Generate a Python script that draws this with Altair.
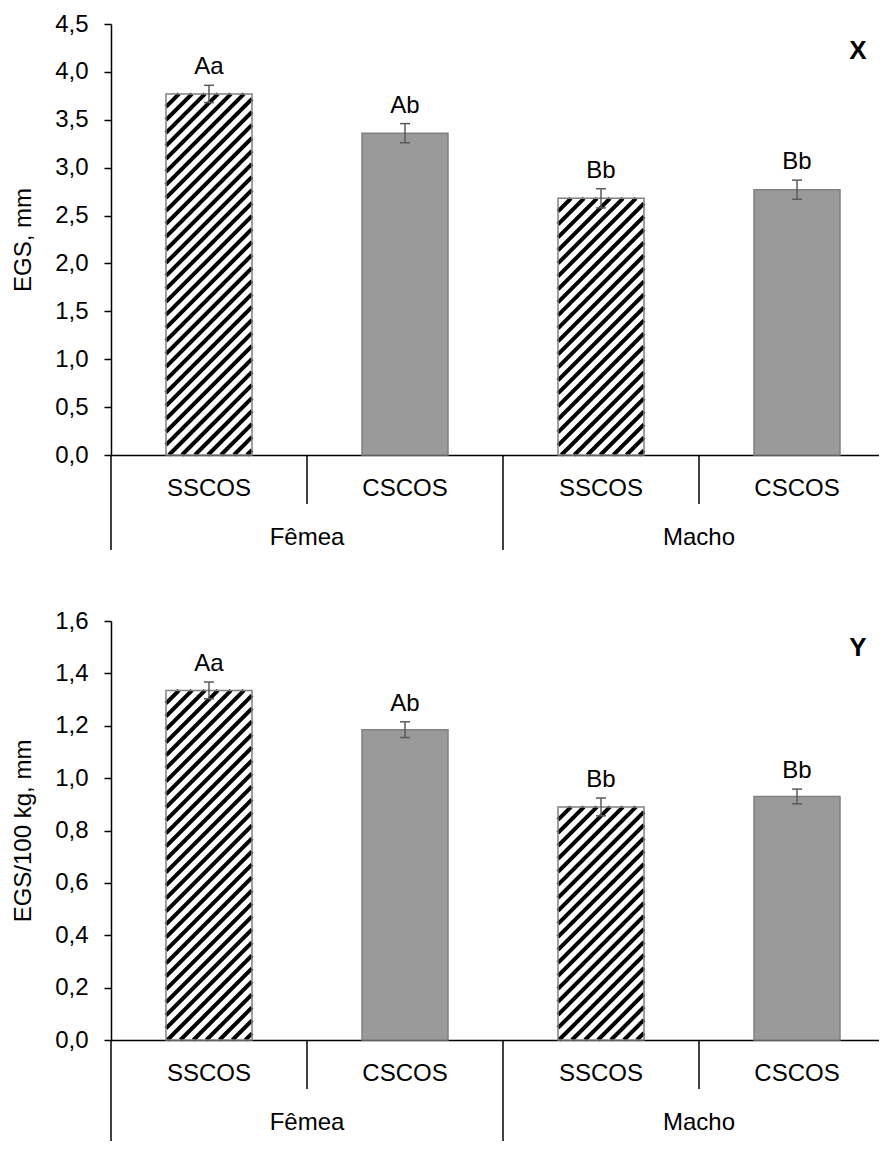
import altair as alt
import pandas as pd
import numpy as np

# ---------------- data ----------------
sexo = ["Fêmea", "Fêmea", "Macho", "Macho"]
trat = ["SSCOS", "CSCOS", "SSCOS", "CSCOS"]
grupos = ["Fêmea", "Macho"]

egs_mean = [3.77, 3.36, 2.68, 2.77]
egs_se = [0.09, 0.10, 0.10, 0.10]
egs_letras = ["Aa", "Ab", "Bb", "Bb"]
egs_ticks = [0.0, 0.5, 1.0, 1.5, 2.0, 2.5, 3.0, 3.5, 4.0, 4.5]

egs100_mean = [1.335, 1.185, 0.89, 0.93]
egs100_se = [0.032, 0.030, 0.034, 0.028]
egs100_letras = ["Aa", "Ab", "Bb", "Bb"]
egs100_ticks = [0.0, 0.2, 0.4, 0.6, 0.8, 1.0, 1.2, 1.4, 1.6]

# ---------------- style ----------------
FONT = "Liberation Sans"
FS = 24
W = 768
BAND_PX = 196.0
XMAX = W / BAND_PX
BAR_HALF = 43.0 / BAND_PX
CAP_HALF = 5.0 / BAND_PX
STRIPE_STEP = 13.0
GREY_FILL = "#9a9a9a"


def panel(means, ses, letters, ticks, height, title, tag):
    ymax = ticks[-1]
    sy = height / ymax
    n = len(means)
    centers = [i + 0.5 for i in range(n)]
    bars = pd.DataFrame({
        "c": centers,
        "x0": [c - BAR_HALF for c in centers],
        "x1": [c + BAR_HALF for c in centers],
        "cl": [c - CAP_HALF for c in centers],
        "cr": [c + CAP_HALF for c in centers],
        "mean": means,
        "lo": [m - s for m, s in zip(means, ses)],
        "hi": [m + s for m, s in zip(means, ses)],
        "trat": trat,
        "sexo": sexo,
        "letra": letters,
        "fill": ["white" if t == "SSCOS" else GREY_FILL for t in trat],
    })

    # diagonal hatching for SSCOS bars (derived from bar geometry)
    segs = []
    for _, r in bars[bars.trat == "SSCOS"].iterrows():
        u0, u1 = r.x0 * BAND_PX, r.x1 * BAND_PX
        vh = r["mean"] * sy
        d = u0 - vh
        while d < u1:
            vs = max(0.0, u0 - d)
            ve = min(vh, u1 - d)
            if ve - vs > 0.5:
                segs.append({
                    "sx": (vs + d) / BAND_PX, "sy": vs / sy,
                    "ex": (ve + d) / BAND_PX, "ey": ve / sy,
                })
            d += STRIPE_STEP
    stripes = pd.DataFrame(segs)

    xs = alt.Scale(domain=[0, XMAX], nice=False, zero=False)
    ys = alt.Scale(domain=[0, ymax], nice=False, zero=True)

    yaxis = alt.Axis(
        values=ticks,
        labelExpr="replace(format(datum.value, '.1f'), '.', ',')",
        tickSize=7, labelPadding=16, titlePadding=19, grid=False,
        domainColor="black", tickColor="black", domainWidth=1.5, tickWidth=1.5,
        labelColor="black", titleColor="black",
        labelFont=FONT, titleFont=FONT, labelFontSize=FS, titleFontSize=FS,
        titleFontWeight="normal",
    )
    xaxis = alt.Axis(labels=False, ticks=False, title=None, grid=False,
                     domainColor="black", domainWidth=1.5)

    def X(field):
        return alt.X(field, scale=xs, axis=xaxis, title=None)

    def Y(field):
        return alt.Y(field, scale=ys, axis=yaxis, title=title)

    fill = alt.Chart(bars).mark_rect().encode(
        x=X("x0:Q"), x2="x1:Q",
        y=Y("mean:Q"), y2=alt.datum(0),
        fill=alt.Fill("fill:N", scale=None),
    )
    hatch = alt.Chart(stripes).mark_rule(color="black", strokeWidth=4).encode(
        x=X("sx:Q"), y=Y("sy:Q"), x2="ex:Q", y2="ey:Q",
    )
    outline = alt.Chart(bars).mark_rect(
        fillOpacity=0, stroke="#808080", strokeWidth=1.5
    ).encode(
        x=X("x0:Q"), x2="x1:Q", y=Y("mean:Q"), y2=alt.datum(0),
    )
    err = alt.Chart(bars).mark_rule(color="#5a5a5a", strokeWidth=1.5).encode(
        x=X("c:Q"), y=Y("lo:Q"), y2="hi:Q",
    )
    cap_hi = alt.Chart(bars).mark_rule(color="#5a5a5a", strokeWidth=1.5).encode(
        x=X("cl:Q"), x2="cr:Q", y=Y("hi:Q"),
    )
    cap_lo = alt.Chart(bars).mark_rule(color="#5a5a5a", strokeWidth=1.5).encode(
        x=X("cl:Q"), x2="cr:Q", y=Y("lo:Q"),
    )
    letras = alt.Chart(bars).mark_text(
        font=FONT, fontSize=FS, baseline="bottom", dy=-6, color="black"
    ).encode(
        x=X("c:Q"), y=Y("hi:Q"), text="letra:N",
    )
    cat_lab = alt.Chart(bars).mark_text(
        font=FONT, fontSize=FS, baseline="middle", color="black"
    ).encode(
        x=X("c:Q"), y=alt.value(height + 34), text="trat:N",
    )
    grp = pd.DataFrame({
        "g": grupos,
        "gc": [float(np.mean([c for c, s in zip(centers, sexo) if s == g])) for g in grupos],
    })
    grp_lab = alt.Chart(grp).mark_text(
        font=FONT, fontSize=FS, baseline="middle", color="black"
    ).encode(
        x=X("gc:Q"), y=alt.value(height + 83), text="g:N",
    )
    bounds = pd.DataFrame({"b": list(range(n)),
                           "long": [i % 2 == 0 for i in range(n)]})
    long_len = 95 if tag == "X" else 101
    sep_long = alt.Chart(bounds[bounds.long]).mark_rule(
        color="black", strokeWidth=1.5
    ).encode(
        x=X("b:Q"), y=alt.value(height), y2=alt.value(height + long_len),
    )
    sep_short = alt.Chart(bounds[~bounds.long]).mark_rule(
        color="black", strokeWidth=1.5
    ).encode(
        x=X("b:Q"), y=alt.value(height), y2=alt.value(height + 49),
    )
    tag_txt = alt.Chart(pd.DataFrame({"t": [tag]})).mark_text(
        font=FONT, fontSize=26, fontWeight="bold", baseline="middle", color="black"
    ).encode(
        x=alt.value(747), y=alt.value(27), text="t:N",
    )
    return alt.layer(
        fill, hatch, outline, err, cap_hi, cap_lo, letras,
        cat_lab, grp_lab, sep_long, sep_short, tag_txt,
    ).properties(width=W, height=height)


top = panel(egs_mean, egs_se, egs_letras, egs_ticks, 431, "EGS, mm", "X")
bottom = panel(egs100_mean, egs100_se, egs100_letras, egs100_ticks, 419,
               "EGS/100 kg, mm", "Y")

chart = alt.vconcat(top, bottom, spacing=58).properties(
    padding={"left": 3, "top": 4, "right": 0, "bottom": 0},
    background="white",
).configure_view(stroke=None)

chart.save("out.html", embed_options={"renderer": "svg", "actions": False})
